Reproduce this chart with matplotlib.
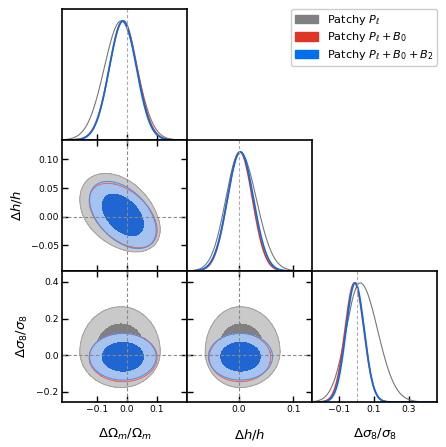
import numpy as np
import matplotlib
matplotlib.use('Agg')
from matplotlib import pyplot as plt
from matplotlib.patches import Patch

# parameters (om, h, s8)
axis_labels = [r'$\Delta\Omega_m/\Omega_m$', r'$\Delta h/h$', r'$\Delta\sigma_8/\sigma_8$']
lims = [(-0.22, 0.203), (-0.095, 0.134), (-0.255, 0.46)]
xticks = [[-0.1, 0.0, 0.1], [0.0, 0.1], [-0.1, 0.1, 0.3]]
xtick_labels = [['\u22120.1', '0.0', '0.1'], ['0.0', '0.1'], ['\u22120.1', '0.1', '0.3']]
yticks = [None, [-0.05, 0.0, 0.05, 0.10], [-0.2, 0.0, 0.2, 0.4]]
ytick_labels = [None, ['\u22120.05', '0.00', '0.05', '0.10'], ['\u22120.2', '0.0', '0.2', '0.4']]

names = [r'Patchy $P_\ell$', r'Patchy $P_\ell+B_0$', r'Patchy $P_\ell+B_0+B_2$']

# peak position and lower/upper widths
gray_mode = [-0.020, 0.002, 0.020]
gray_sig_lo = [0.057, 0.026, 0.080]
gray_sig_hi = [0.054, 0.030, 0.100]
red_mode = [-0.013, 0.002, -0.012]
red_sig_lo = [0.047, 0.023, 0.054]
red_sig_hi = [0.047, 0.023, 0.054]
blue_mode = [-0.014, 0.003, -0.008]
blue_sig_lo = [0.046, 0.024, 0.052]
blue_sig_hi = [0.046, 0.024, 0.052]
# correlations for pairs (om,h), (om,s8), (h,s8)
gray_rho = [-0.38, 0.0, 0.0]
red_rho = [-0.46, 0.0, 0.0]
blue_rho = [-0.46, 0.0, 0.0]

line_cols = ['#777777', '#e03424', '#006fed']
fill_cols = [['#c9c9c9', '#808080'], ['#f2aaa2', '#e03424'], ['#a6c2ee', '#1f66d3']]
edge_cols = ['#a0a0a0', '#e8665a', '#4a8fe8']
legend_cols = ['#808080', '#e03424', '#006fed']
lws = [0.8, 1.2, 1.2]

runs = [(gray_mode, gray_sig_lo, gray_sig_hi, gray_rho),
        (red_mode, red_sig_lo, red_sig_hi, red_rho),
        (blue_mode, blue_sig_lo, blue_sig_hi, blue_rho)]
pair_index = {(0, 1): 0, (0, 2): 1, (1, 2): 2}


def scaled(x, mode, lo, hi):
    # split normal: different widths either side of the peak
    return np.where(x < mode, (x - mode) / lo, (x - mode) / hi)


fig, axes = plt.subplots(3, 3, figsize=(4.46, 4.47), dpi=100)
plt.subplots_adjust(left=62/446, right=437/446, top=1-9/447, bottom=1-402/447,
                    wspace=0, hspace=0)

for i in range(3):
    for j in range(3):
        ax = axes[i, j]
        for s in ax.spines.values():
            s.set_linewidth(1.2)
        if j > i:
            ax.axis('off')
            continue
        ax.set_xlim(lims[j])
        ax.set_xticks(xticks[j])
        if j == i:
            # 1D marginal
            x = np.linspace(lims[j][0], lims[j][1], 400)
            for k, (mode, lo, hi, rho) in enumerate(runs):
                u = scaled(x, mode[j], lo[j], hi[j])
                ax.plot(x, np.exp(-0.5*u**2), color=line_cols[k], lw=lws[k])
            ax.axvline(0, color='#aaaaaa', ls=(0, (3, 2)), lw=0.8)
            ax.set_ylim(0, 1.1)
            ax.set_yticks([])
            ax.tick_params(direction='in', length=4, width=1, labelsize=6.6, pad=2.5,
                           top=False, left=False, right=False)
        else:
            ax.set_ylim(lims[i])
            ax.set_yticks(yticks[i])
            for k, (mode, lo, hi, rho) in enumerate(runs):
                r = rho[pair_index[(j, i)]]
                gx = np.linspace(mode[j] - 6*lo[j], mode[j] + 6*hi[j], 300)
                gy = np.linspace(mode[i] - 6*lo[i], mode[i] + 6*hi[i], 300)
                X, Y = np.meshgrid(gx, gy)
                u = scaled(X, mode[j], lo[j], hi[j])
                v = scaled(Y, mode[i], lo[i], hi[i])
                P = np.exp(-(u**2 - 2*r*u*v + v**2) / (2*(1 - r**2)))
                flat = np.sort(P.ravel())[::-1]
                cum = np.cumsum(flat)
                cum /= cum[-1]
                l68 = flat[np.searchsorted(cum, 0.68)]
                l95 = flat[np.searchsorted(cum, 0.95)]
                ax.contourf(X, Y, P, levels=[l95, l68, P.max()*2], colors=fill_cols[k])
                ax.contour(X, Y, P, levels=[l95], colors=edge_cols[k], linewidths=0.7)
            ax.axvline(0, color='#888888', ls=(0, (3, 2)), lw=0.8)
            ax.axhline(0, color='#888888', ls=(0, (3, 2)), lw=0.8)
            ax.tick_params(direction='in', length=4, width=1, labelsize=6.6, pad=2.5,
                           top=True, right=True)
        if i == 2:
            ax.set_xticklabels(xtick_labels[j])
            ax.set_xlabel(axis_labels[j], fontsize=9.5, labelpad=9)
        else:
            ax.set_xticklabels([])
        if j == 0 and i > 0:
            ax.set_yticklabels(ytick_labels[i])
            ax.set_ylabel(axis_labels[i], fontsize=9.5, labelpad=4.5)
        elif j != i:
            ax.set_yticklabels([])

handles = [Patch(color=c) for c in legend_cols]
fig.legend(handles, names, loc='upper right', bbox_to_anchor=(437/446, 1-9/447),
           borderaxespad=0, fontsize=8.1, handlelength=2.0, handleheight=0.75,
           labelspacing=0.3, borderpad=0.35, edgecolor='#cccccc', fancybox=True,
           framealpha=1)

plt.savefig('out.png', dpi=100)
